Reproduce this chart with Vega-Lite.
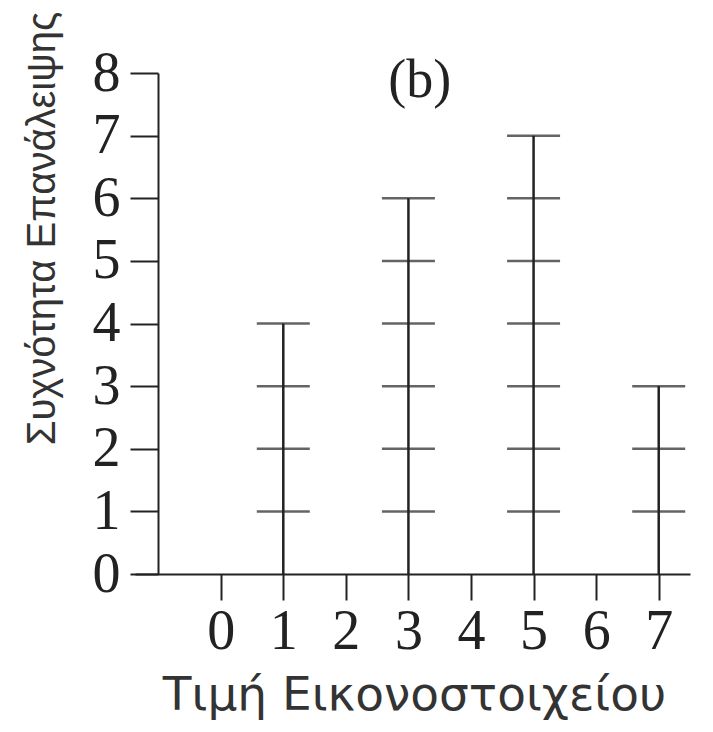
{
  "$schema": "https://vega.github.io/schema/vega-lite/v6.json",
  "width": 555,
  "height": 501,
  "autosize": {"type": "none"},
  "padding": {"left": 135, "top": 73, "right": 23, "bottom": 158},
  "background": "white",
  "datasets": {
    "counts": [
      {"value": 1, "count": 4},
      {"value": 3, "count": 6},
      {"value": 5, "count": 7},
      {"value": 7, "count": 3}
    ],
    "marks": [
      {"value": 1, "level": 1}, {"value": 1, "level": 2}, {"value": 1, "level": 3}, {"value": 1, "level": 4},
      {"value": 3, "level": 1}, {"value": 3, "level": 2}, {"value": 3, "level": 3}, {"value": 3, "level": 4}, {"value": 3, "level": 5}, {"value": 3, "level": 6},
      {"value": 5, "level": 1}, {"value": 5, "level": 2}, {"value": 5, "level": 3}, {"value": 5, "level": 4}, {"value": 5, "level": 5}, {"value": 5, "level": 6}, {"value": 5, "level": 7},
      {"value": 7, "level": 1}, {"value": 7, "level": 2}, {"value": 7, "level": 3}
    ],
    "panel": [{"label": "(b)"}]
  },
  "config": {
    "view": {"stroke": null},
    "axis": {
      "grid": false,
      "domainColor": "#222",
      "domainWidth": 2,
      "tickColor": "#222",
      "tickWidth": 2,
      "labelFont": "Liberation Serif",
      "labelFontSize": 56,
      "labelColor": "#222",
      "titleFontWeight": "normal",
      "titleColor": "#333"
    }
  },
  "layer": [
    {
      "data": {"name": "counts"},
      "mark": {"type": "rule", "color": "#222", "strokeWidth": 2.5},
      "encoding": {
        "x": {
          "field": "value",
          "type": "quantitative",
          "scale": {"domain": [-1.37, 7.5], "nice": false, "zero": false},
          "axis": {
            "values": [0, 1, 2, 3, 4, 5, 6, 7],
            "format": "d",
            "tickSize": 26,
            "labelPadding": 4,
            "labelBaseline": "top",
            "labelFlush": false,
            "labelOverlap": false,
            "title": "Τιμή Εικονοστοιχείου",
            "titleFont": "DejaVu Sans",
            "titleFontSize": 47,
            "titleBaseline": "alphabetic",
            "titleAlign": "center",
            "titleX": 279,
            "titleY": 135
          }
        },
        "y": {
          "field": "count",
          "type": "quantitative",
          "scale": {"domain": [0, 8], "nice": false},
          "axis": {
            "values": [0, 1, 2, 3, 4, 5, 6, 7, 8],
            "format": "d",
            "offset": -23,
            "tickSize": 28,
            "labelPadding": 10,
            "labelBaseline": "middle",
            "labelFlush": false,
            "labelOverlap": false,
            "title": "Συχνότητα Επανάλειψης",
            "titleFont": "Liberation Sans",
            "titleFontSize": 40,
            "titleAngle": -90,
            "titleBaseline": "middle",
            "titleAlign": "center",
            "titleX": -116,
            "titleY": 155
          }
        },
        "y2": {"datum": 0}
      }
    },
    {
      "data": {"name": "marks"},
      "mark": {"type": "tick", "orient": "horizontal", "color": "#222", "size": 53, "thickness": 2.5},
      "encoding": {
        "x": {"field": "value", "type": "quantitative"},
        "y": {"field": "level", "type": "quantitative"}
      }
    },
    {
      "data": {"name": "panel"},
      "mark": {"type": "text", "font": "Liberation Serif", "fontSize": 54, "color": "#222", "align": "center", "baseline": "alphabetic"},
      "encoding": {
        "text": {"field": "label"},
        "x": {"datum": 3.18, "type": "quantitative"},
        "y": {"datum": 7.62, "type": "quantitative"}
      }
    }
  ]
}
